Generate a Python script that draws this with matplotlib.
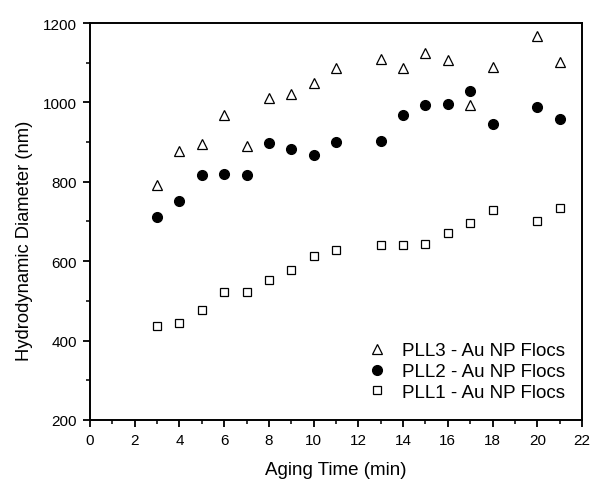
import numpy as np
import matplotlib
matplotlib.use('Agg')
from matplotlib import pyplot as plt
from matplotlib.ticker import MultipleLocator

plt.rcParams['font.family'] = ['Liberation Sans', 'DejaVu Sans']

time = [3, 4, 5, 6, 7, 8, 9, 10, 11, 13, 14, 15, 16, 17, 18, 20, 21]
pll3 = [793, 877, 895, 968, 891, 1012, 1022, 1050, 1087, 1110, 1086, 1125, 1107, 993, 1088, 1168, 1101]
pll2 = [712, 752, 818, 820, 817, 897, 882, 867, 901, 903, 969, 994, 996, 1028, 945, 989, 958]
pll1 = [437, 445, 478, 522, 521, 553, 578, 614, 627, 641, 641, 642, 672, 696, 728, 701, 735]

fig = plt.figure(figsize=(5.9, 4.81), dpi=100)
ax = fig.add_axes([0.1525, 0.125, 0.834, 0.825])

ax.plot(time, pll3, linestyle='none', marker='^', markersize=7, mfc='white', mec='black', mew=0.9,
        label='PLL3 - Au NP Flocs')
ax.plot(time, pll2, linestyle='none', marker='o', markersize=7, mfc='black', mec='black',
        label='PLL2 - Au NP Flocs')
ax.plot(time, pll1, linestyle='none', marker='s', markersize=5.5, mfc='white', mec='black', mew=0.9,
        label='PLL1 - Au NP Flocs')

ax.set_xlim(0, 22)
ax.set_ylim(200, 1200)
ax.xaxis.set_major_locator(MultipleLocator(2))
ax.xaxis.set_minor_locator(MultipleLocator(1))
ax.yaxis.set_major_locator(MultipleLocator(200))
ax.yaxis.set_minor_locator(MultipleLocator(100))
ax.tick_params(which='major', direction='out', length=5, width=1.3, labelsize=11, pad=4.5,
               top=False, right=False)
ax.tick_params(which='minor', direction='out', length=3, width=1.1, top=False, right=False)
for s in ax.spines.values():
    s.set_linewidth(1.4)

ax.set_xlabel('Aging Time (min)', fontsize=13.5, labelpad=10)
ax.set_ylabel('Hydrodynamic Diameter (nm)', fontsize=13.2)
ax.yaxis.set_label_coords(-0.116, 0.455)

ax.legend(loc='lower right', frameon=False, fontsize=13.5, handletextpad=0.35,
          labelspacing=0.2, bbox_to_anchor=(1.0, 0.005))

fig.savefig('out.png', dpi=100)
